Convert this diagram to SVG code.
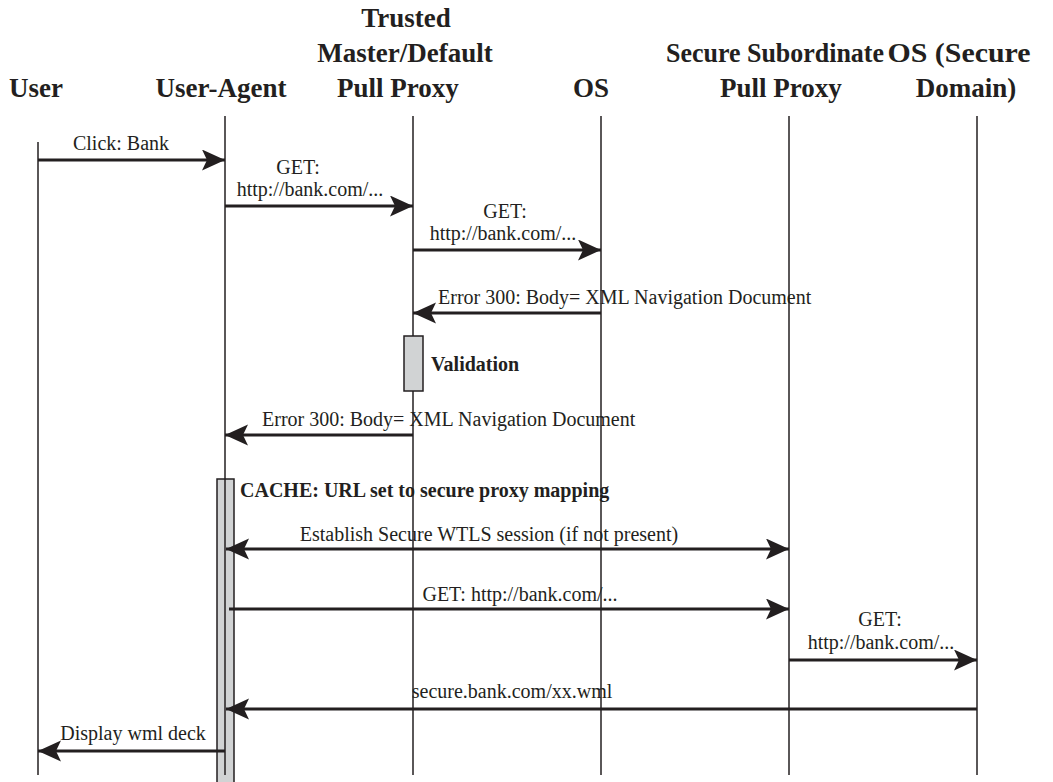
<svg xmlns="http://www.w3.org/2000/svg" width="1053" height="782" viewBox="0 0 1053 782">
<style>
.hdr{font-family:"Liberation Serif","Times New Roman",serif;font-weight:bold;font-size:27px;fill:#231f20;text-anchor:middle}
.lbl{font-family:"Liberation Serif","Times New Roman",serif;font-size:20px;fill:#231f20}
.mid{text-anchor:middle}
.bold{font-weight:bold}
.life{stroke:#231f20;stroke-width:1.5;fill:none}
.act{fill:#d1d3d4;stroke:#231f20;stroke-width:1.5}
.msg{stroke:#231f20;stroke-width:3;fill:none;marker-end:url(#ah)}
.both{marker-start:url(#ahs)}
</style>
<defs>
<marker id="ah" markerUnits="userSpaceOnUse" markerWidth="25" markerHeight="22" refX="23" refY="10.5" orient="auto" viewBox="0 0 25 22">
<path d="M0,0 L23,10.5 L0,21 L5,10.5 Z" fill="#231f20"/>
</marker>
<marker id="ahs" markerUnits="userSpaceOnUse" markerWidth="25" markerHeight="22" refX="23" refY="10.5" orient="auto-start-reverse" viewBox="0 0 25 22">
<path d="M0,0 L23,10.5 L0,21 L5,10.5 Z" fill="#231f20"/>
</marker>
</defs>
<rect width="1053" height="782" fill="#ffffff"/>
<g id="user">
<text class="hdr" x="36" y="97">User</text>
<line class="life" x1="38" y1="142" x2="38" y2="775"/>
</g>
<g id="user-agent">
<text class="hdr" x="221" y="97">User-Agent</text>
<rect class="act" x="217" y="479" width="17" height="310"/>
<line class="life" x1="225" y1="116" x2="225" y2="775"/>
<text class="lbl bold" x="240" y="497">CACHE: URL set to secure proxy mapping</text>
</g>
<g id="trusted-proxy">
<text class="hdr" x="406" y="27">Trusted</text>
<text class="hdr" x="405" y="62">Master/Default</text>
<text class="hdr" x="398" y="97">Pull Proxy</text>
<line class="life" x1="413" y1="116" x2="413" y2="775"/>
<rect class="act" x="404" y="336" width="19" height="55"/>
<text class="lbl bold" x="431" y="371">Validation</text>
</g>
<g id="os">
<text class="hdr" x="591" y="97">OS</text>
<line class="life" x1="601" y1="116" x2="601" y2="775"/>
</g>
<g id="secure-proxy">
<text class="hdr" x="775" y="62" textLength="218" lengthAdjust="spacingAndGlyphs">Secure Subordinate</text>
<text class="hdr" x="781" y="97">Pull Proxy</text>
<line class="life" x1="789" y1="116" x2="789" y2="775"/>
</g>
<g id="os-secure">
<text class="hdr" x="959" y="62" textLength="143" lengthAdjust="spacingAndGlyphs">OS (Secure</text>
<text class="hdr" x="966" y="97">Domain)</text>
<line class="life" x1="977" y1="116" x2="977" y2="775"/>
</g>
<g id="connectors">
<line class="msg" x1="38" y1="160" x2="225" y2="160"/>
<text class="lbl mid" x="121" y="150">Click: Bank</text>
<line class="msg" x1="225" y1="206" x2="413" y2="206"/>
<text class="lbl mid" x="298" y="174">GET:</text>
<text class="lbl mid" x="310" y="196">http://bank.com/...</text>
<line class="msg" x1="413" y1="250" x2="601" y2="250"/>
<text class="lbl mid" x="505" y="218">GET:</text>
<text class="lbl mid" x="503" y="240">http://bank.com/...</text>
<line class="msg" x1="601" y1="313" x2="413" y2="313"/>
<text class="lbl" x="438" y="304">Error 300: Body= XML Navigation Document</text>
<line class="msg" x1="413" y1="435" x2="225" y2="435"/>
<text class="lbl" x="262" y="426">Error 300: Body= XML Navigation Document</text>
<line class="msg both" x1="226" y1="549" x2="789" y2="549"/>
<text class="lbl mid" x="489" y="541">Establish Secure WTLS session (if not present)</text>
<line class="msg" x1="229" y1="609" x2="789" y2="609"/>
<text class="lbl mid" x="520" y="601">GET: http://bank.com/...</text>
<line class="msg" x1="789" y1="660" x2="977" y2="660"/>
<text class="lbl mid" x="880" y="626">GET:</text>
<text class="lbl mid" x="881" y="649">http://bank.com/...</text>
<line class="msg" x1="977" y1="709" x2="226" y2="709"/>
<text class="lbl mid" x="512" y="698">secure.bank.com/xx.wml</text>
<line class="msg" x1="225" y1="751" x2="38" y2="751"/>
<text class="lbl mid" x="133" y="740">Display wml deck</text>
</g>
</svg>
